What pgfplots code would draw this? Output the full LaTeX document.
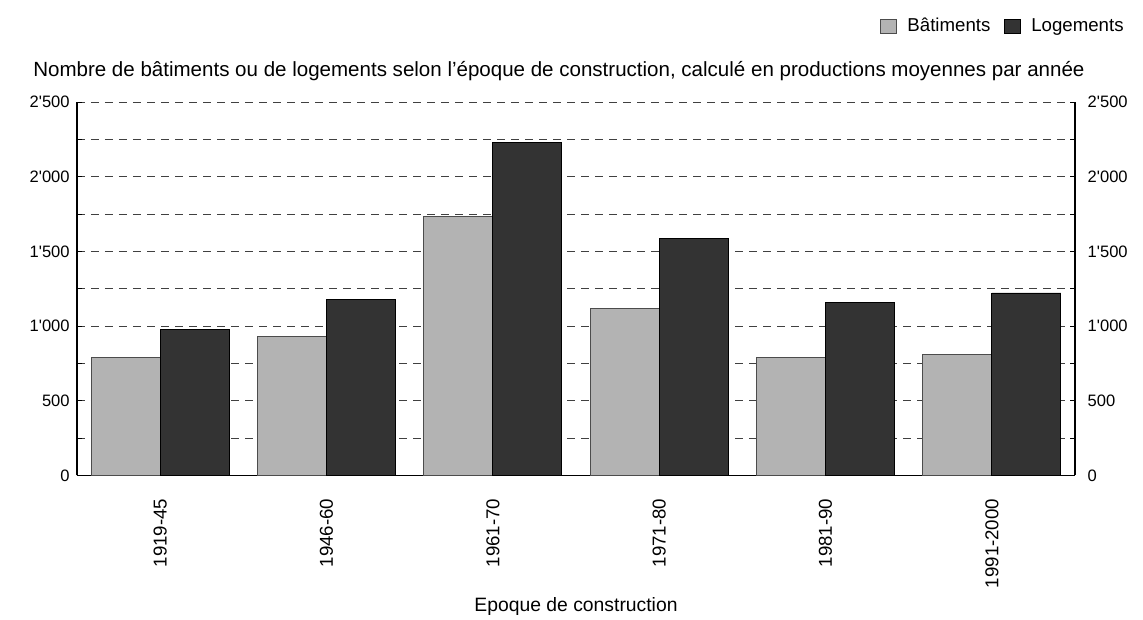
\documentclass[border=0pt]{standalone}
\usepackage{fontspec}
\setmainfont{Liberation Sans}
\usepackage{pgfplots}
\usepackage{pgfplotstable}
\pgfplotsset{compat=1.18}

\definecolor{batgray}{HTML}{B3B3B3}
\definecolor{loggray}{HTML}{333333}

% moyennes annuelles par epoque
\pgfplotstableread{
x bat log
0 790 975
1 932 1180
2 1734 2230
3 1117 1585
4 788 1157
5 810 1222
}\epoques

\pgfplotsset{
  common/.style={
    at={(0,0)}, anchor=south west,
    scale only axis, width=748.5pt, height=280pt,
    xmin=-0.5, xmax=5.5, ymin=0, ymax=2500,
    axis line style={-, line width=0.9pt},
    ytick={0,500,...,2500},
    minor ytick={250,750,...,2250},
    tick align=inside,
    major tick length=4pt, minor tick length=4pt,
    tick style={black, line width=0.6pt},
    scaled y ticks=false,
    yticklabel style={font=\fontsize{12.4}{15}\selectfont},
    /pgf/number format/assume math mode=true,
    /pgf/number format/1000 sep={\textquotesingle},
  },
  sq legend/.style={legend image code/.code={
    \draw[##1] (0pt,-5.5pt) rectangle (12pt,5.5pt);}},
}

\begin{document}
\begin{tikzpicture}[font=\fontsize{14}{16.8}\selectfont]
\begin{axis}[
  common,
  ybar=0pt,
  bar width=0.415,
  axis x line*=bottom, axis y line*=left,
  xtick={0,...,5},
  xticklabels={1919-45,1946-60,1961-70,1971-80,1981-90,1991-2000},
  major x tick style={draw=none},
  xticklabel style={yshift=-10pt, rotate=90, anchor=east, font=\fontsize{14}{16.8}\selectfont},
  yticklabel style={anchor=east, xshift=-2pt},
  ymajorgrids, yminorgrids,
  major grid style={black!75, line width=0.6pt, dash pattern=on 6pt off 4.5pt},
  minor grid style={black!75, line width=0.6pt, dash pattern=on 6pt off 4.5pt},
  xlabel={Epoque de construction},
  xlabel style={at={(axis description cs:0.5,-0.352)}, anchor=center, font=\fontsize{14.5}{17}\selectfont},
  legend style={at={(rel axis cs:1.049,1.203)}, anchor=east, draw=none, fill=none,
    font=\fontsize{14}{16.8}\selectfont, inner sep=0pt,
    nodes={inner sep=0pt, text height=10pt, text depth=3pt},
    legend columns=2,
    /tikz/every odd column/.append style={column sep=8pt},
    /tikz/every even column/.append style={column sep=10pt}},
]
\addplot[fill=batgray, draw=black!70, line width=0.6pt, bar shift=-0.2075, sq legend]
  table[x=x, y=bat] {\epoques};
\addlegendentry{Bâtiments}
\addplot[fill=loggray, draw=black, line width=0.6pt, bar shift=0.2075, sq legend]
  table[x=x, y=log] {\epoques};
\addlegendentry{Logements}
\end{axis}
\begin{axis}[
  common,
  axis x line=none, axis y line*=right,
  yticklabel style={anchor=west, xshift=6pt},
]
\end{axis}
\node[anchor=west, inner sep=0pt, font=\fontsize{15.4}{18}\selectfont] at (-33pt,303.5pt)
  {Nombre de bâtiments ou de logements selon l'époque de construction, calculé en productions moyennes par année};
\pgfresetboundingbox
\path (-57.75pt,-108.4pt) rectangle (799.5pt,356.6pt);
\end{tikzpicture}
\end{document}
